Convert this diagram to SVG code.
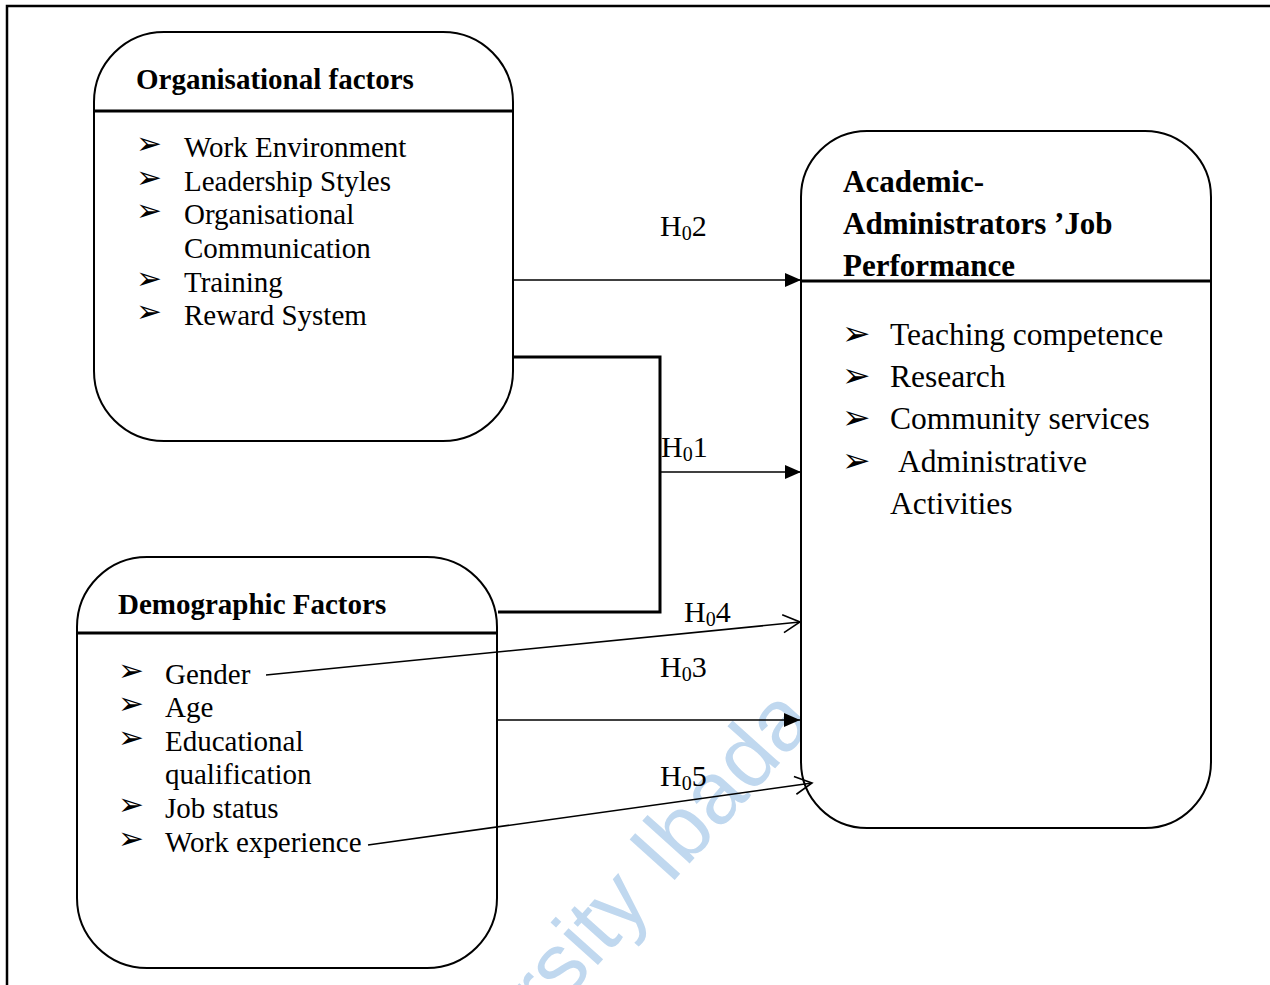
<svg xmlns="http://www.w3.org/2000/svg" width="1270" height="985" viewBox="0 0 1270 985">
  <defs>
    <style>
      .box { fill: #ffffff; stroke: #000000; stroke-width: 2; }
      .divider { stroke: #000000; stroke-width: 3; }
      .title { font-family: "Liberation Serif", "Times New Roman", serif; font-weight: bold; font-size: 29px; fill: #000000; }
      .titleR { font-family: "Liberation Serif", "Times New Roman", serif; font-weight: bold; font-size: 31px; fill: #000000; }
      .item { font-family: "Liberation Serif", "Times New Roman", serif; font-size: 29px; fill: #000000; }
      .itemR { font-family: "Liberation Serif", "Times New Roman", serif; font-size: 31.5px; fill: #000000; }
      .bullet { font-family: "DejaVu Sans", sans-serif; font-size: 31px; fill: #000000; }
      .bulletR { font-family: "DejaVu Sans", sans-serif; font-size: 34px; fill: #000000; }
      .hyp { font-family: "Liberation Serif", "Times New Roman", serif; font-size: 30px; fill: #000000; }
      .sub { font-size: 20px; }
      .conn { fill: none; stroke: #000000; stroke-width: 1.6; }
      .elbow { fill: none; stroke: #000000; stroke-width: 3; }
      .mark { font-family: "Liberation Sans", Arial, sans-serif; font-size: 88px; fill: #c0d8ef; }
    </style>
    <marker id="solid" markerUnits="userSpaceOnUse" markerWidth="18" markerHeight="16" refX="16" refY="7" orient="auto">
      <path d="M0,0 L16,7 L0,14 Z" fill="#000000"/>
    </marker>
    <marker id="open" markerUnits="userSpaceOnUse" markerWidth="22" markerHeight="24" refX="19" refY="11" orient="auto">
      <path d="M2,2 L19,11 L2,20" fill="none" stroke="#000000" stroke-width="1.6"/>
    </marker>
  </defs>

  <rect width="1270" height="985" fill="#ffffff"/>

  <!-- page frame -->
  <path d="M7,985 V6 H1270" fill="none" stroke="#000000" stroke-width="2.5"/>

  <!-- library stamp -->
  <text class="mark" transform="translate(545,1024) rotate(-48)">rsity Ibada</text>

  <!-- Organisational factors -->
  <g id="organisational-factors">
    <rect class="box" x="94" y="32" width="419" height="409" rx="70" ry="70"/>
    <line class="divider" x1="94" y1="111" x2="513" y2="111"/>
    <text class="title" x="136" y="89">Organisational factors</text>
    <text class="bullet" x="136" y="154">➢</text>
    <text class="item" x="184" y="157">Work Environment</text>
    <text class="bullet" x="136" y="188">➢</text>
    <text class="item" x="184" y="191">Leadership Styles</text>
    <text class="bullet" x="136" y="221">➢</text>
    <text class="item" x="184" y="224">Organisational</text>
    <text class="item" x="184" y="258">Communication</text>
    <text class="bullet" x="136" y="289">➢</text>
    <text class="item" x="184" y="292">Training</text>
    <text class="bullet" x="136" y="322">➢</text>
    <text class="item" x="184" y="325">Reward System</text>
  </g>

  <!-- Demographic Factors -->
  <g id="demographic-factors">
    <rect class="box" x="77" y="557" width="420" height="411" rx="70" ry="70"/>
    <line class="divider" x1="77" y1="633" x2="497" y2="633"/>
    <text class="title" x="118" y="614">Demographic Factors</text>
    <text class="bullet" x="118" y="681">➢</text>
    <text class="item" x="165" y="684">Gender</text>
    <text class="bullet" x="118" y="714">➢</text>
    <text class="item" x="165" y="717">Age</text>
    <text class="bullet" x="118" y="748">➢</text>
    <text class="item" x="165" y="751">Educational</text>
    <text class="item" x="165" y="784">qualification</text>
    <text class="bullet" x="118" y="815">➢</text>
    <text class="item" x="165" y="818">Job status</text>
    <text class="bullet" x="118" y="849">➢</text>
    <text class="item" x="165" y="852">Work experience</text>
  </g>

  <!-- Academic-Administrators' Job Performance -->
  <g id="job-performance">
    <rect class="box" x="801" y="131" width="410" height="697" rx="66" ry="66"/>
    <line class="divider" x1="801" y1="281" x2="1211" y2="281"/>
    <text class="titleR" x="843" y="192">Academic-</text>
    <text class="titleR" x="843" y="234">Administrators ’Job</text>
    <text class="titleR" x="843" y="276">Performance</text>
    <text class="bulletR" x="842" y="345">➢</text>
    <text class="itemR" x="890" y="345">Teaching competence</text>
    <text class="bulletR" x="842" y="387">➢</text>
    <text class="itemR" x="890" y="387">Research</text>
    <text class="bulletR" x="842" y="429">➢</text>
    <text class="itemR" x="890" y="429">Community services</text>
    <text class="bulletR" x="842" y="472">➢</text>
    <text class="itemR" x="898" y="472">Administrative</text>
    <text class="itemR" x="890" y="514">Activities</text>
  </g>

  <!-- hypothesis connectors -->
  <g id="connectors">
    <line class="conn" x1="513" y1="280" x2="801" y2="280" marker-end="url(#solid)"/>
    <polyline class="elbow" points="513,357 660,357 660,612 498,612"/>
    <line class="conn" x1="660" y1="472" x2="801" y2="472" marker-end="url(#solid)"/>
    <line class="conn" x1="266" y1="675" x2="800" y2="622" marker-end="url(#open)"/>
    <line class="conn" x1="497" y1="720" x2="800" y2="720" marker-end="url(#solid)"/>
    <line class="conn" x1="368" y1="845" x2="812" y2="783" marker-end="url(#open)"/>

    <text class="hyp" x="660" y="236">H<tspan class="sub" dy="4">0</tspan><tspan dy="-4">2</tspan></text>
    <text class="hyp" x="661" y="457">H<tspan class="sub" dy="4">0</tspan><tspan dy="-4">1</tspan></text>
    <text class="hyp" x="684" y="622">H<tspan class="sub" dy="4">0</tspan><tspan dy="-4">4</tspan></text>
    <text class="hyp" x="660" y="677">H<tspan class="sub" dy="4">0</tspan><tspan dy="-4">3</tspan></text>
    <text class="hyp" x="660" y="786">H<tspan class="sub" dy="4">0</tspan><tspan dy="-4">5</tspan></text>
  </g>
</svg>
